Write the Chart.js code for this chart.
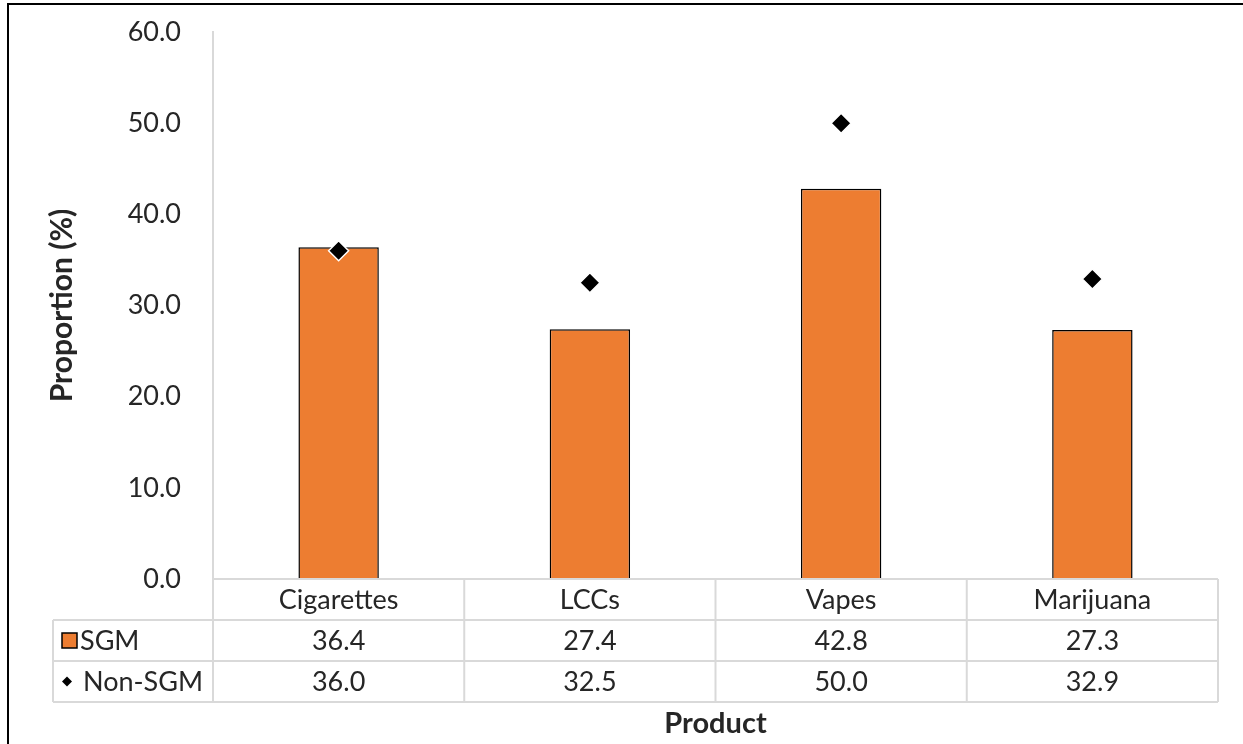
<!DOCTYPE html>
<html>
<head>
<meta charset="utf-8">
<script src="https://cdn.jsdelivr.net/npm/chart.js@4.4.0/dist/chart.umd.min.js"></script>
<style>
  html, body { margin: 0; padding: 0; background: #fff; overflow: hidden; }
  canvas { display: block; }
</style>
</head>
<body>
<canvas id="myChart" width="1243" height="744"></canvas>
<script>
var products = ['Cigarettes', 'LCCs', 'Vapes', 'Marijuana'];
var sgmValues = [36.4, 27.4, 42.8, 27.3];
var nonSgmValues = [36.0, 32.5, 50.0, 32.9];
var seriesNames = ['SGM', 'Non-SGM'];
var yTicks = [0, 10, 20, 30, 40, 50, 60];

var FONT = 'Lato, "Open Sans", sans-serif';
var TEXT = '#262626';
var GRID = '#d9d9d9';
var ORANGE = '#ED7D31';

// draws the outer frame, the data table under the plot and the x title
var tablePlugin = {
  id: 'dataTable',
  afterDraw: function (chart) {
    var ctx = chart.ctx;
    var x = chart.scales.x;
    var area = chart.chartArea;
    var n = products.length;
    var half = (x.getPixelForValue(1) - x.getPixelForValue(0)) / 2;
    var left = x.getPixelForValue(0) - half;
    var right = x.getPixelForValue(n - 1) + half;
    var rowH = 41;
    var top = area.bottom;
    var r1 = top + rowH, r2 = r1 + rowH, r3 = r2 + rowH;
    var labLeft = 53;

    ctx.save();
    // frame
    ctx.strokeStyle = '#000';
    ctx.lineWidth = 2;
    ctx.strokeRect(8, 4, chart.width + 20, chart.height + 20);

    ctx.strokeStyle = GRID;
    ctx.lineWidth = 2;
    ctx.beginPath();
    ctx.moveTo(left, top); ctx.lineTo(right, top);
    ctx.moveTo(labLeft, r1); ctx.lineTo(right, r1);
    ctx.moveTo(labLeft, r2); ctx.lineTo(right, r2);
    ctx.moveTo(labLeft, r3); ctx.lineTo(right, r3);
    ctx.moveTo(labLeft, r1); ctx.lineTo(labLeft, r3);
    for (var i = 0; i <= n; i++) {
      var vx = left + i * half * 2;
      ctx.moveTo(vx, top); ctx.lineTo(vx, r3);
    }
    ctx.stroke();

    ctx.fillStyle = TEXT;
    ctx.textAlign = 'center';
    ctx.textBaseline = 'middle';
    ctx.font = '27px ' + FONT;
    for (var j = 0; j < n; j++) {
      var cx = x.getPixelForValue(j);
      ctx.fillText(products[j], cx, top + rowH / 2 + 1);
      ctx.fillText(sgmValues[j].toFixed(1), cx, r1 + rowH / 2 + 1);
      ctx.fillText(nonSgmValues[j].toFixed(1), cx, r2 + rowH / 2 + 1);
    }

    // legend keys
    ctx.fillStyle = ORANGE;
    ctx.strokeStyle = '#000';
    ctx.lineWidth = 1.5;
    ctx.fillRect(62, r1 + 13, 15, 15);
    ctx.strokeRect(62, r1 + 13, 15, 15);
    ctx.fillStyle = '#000';
    ctx.beginPath();
    var dx = 67, dy = r2 + rowH / 2;
    ctx.moveTo(dx, dy - 5); ctx.lineTo(dx + 5, dy); ctx.lineTo(dx, dy + 5); ctx.lineTo(dx - 5, dy);
    ctx.closePath();
    ctx.fill();

    ctx.fillStyle = TEXT;
    ctx.textAlign = 'left';
    ctx.fillText(seriesNames[0], 80, r1 + rowH / 2 + 1);
    ctx.fillText(seriesNames[1], 83, r2 + rowH / 2 + 1);

    ctx.textAlign = 'center';
    ctx.font = 'bold 29px ' + FONT;
    ctx.fillText('Product', (left + right) / 2, 724);
    ctx.restore();
  }
};

new Chart(document.getElementById('myChart'), {
  type: 'bar',
  data: {
    labels: products,
    datasets: [
      {
        label: seriesNames[1],
        type: 'line',
        data: nonSgmValues,
        showLine: false,
        pointStyle: 'rectRot',
        pointRadius: 10,
        pointHoverRadius: 10,
        pointBackgroundColor: '#000',
        pointBorderColor: '#fff',
        pointBorderWidth: 1.5,
        order: 0
      },
      {
        label: seriesNames[0],
        data: sgmValues,
        backgroundColor: ORANGE,
        borderColor: '#000',
        borderWidth: 1.5,
        barPercentage: 0.32,
        categoryPercentage: 1,
        order: 1
      }
    ]
  },
  options: {
    responsive: false,
    animation: false,
    devicePixelRatio: 1,
    layout: { padding: { left: 0, right: 25, top: 32, bottom: 165 } },
    plugins: {
      legend: { display: false },
      tooltip: { enabled: false }
    },
    scales: {
      x: {
        display: false,
        grid: { display: false }
      },
      y: {
        min: 0,
        max: 60,
        afterFit: function (s) {
          s.width = 213;
          s.paddingTop = 0;
          s.paddingBottom = 0;
        },
        afterBuildTicks: function (s) {
          s.ticks = yTicks.map(function (v) { return { value: v }; });
        },
        grid: { display: false },
        border: { display: true, color: GRID, width: 2 },
        ticks: {
          padding: 24,
          color: TEXT,
          font: { family: FONT, size: 27 },
          callback: function (v) { return Number(v).toFixed(1); }
        },
        title: {
          display: true,
          text: 'Proportion (%)',
          color: TEXT,
          padding: { top: 44, bottom: 0 },
          font: { family: FONT, size: 30, weight: 'bold' }
        }
      }
    }
  },
  plugins: [tablePlugin]
});
</script>
</body>
</html>
